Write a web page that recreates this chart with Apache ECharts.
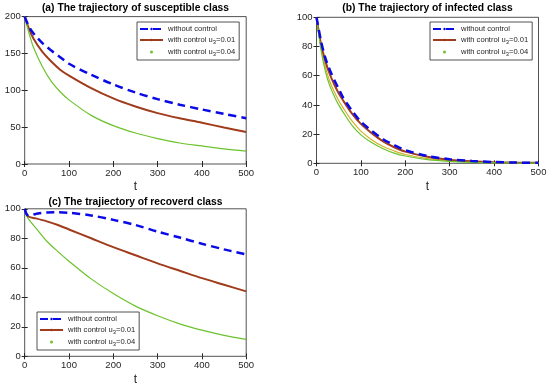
<!DOCTYPE html>
<html><head><meta charset="utf-8">
<script src="https://cdn.jsdelivr.net/npm/echarts@6/dist/echarts.min.js"></script>
<style>html,body{margin:0;padding:0;background:#fff}#c{width:550px;height:387px}</style>
</head><body><div id="c"></div>
<script>
// Panel (a) susceptible
const tA = [0,10,20,40,60,80,100,150,200,250,300,350,400,450,500];
const aNoCtrl = [200,186,177,164,154,145,136,121,108,97,88,80.5,74,68,62];
const aU1 = [200,183,170,152,139,128,120,103,89,78,69,62,56,49.5,43.5];
const aU4 = [200,177,158,132,112,98,87,66,52,42,34.5,28.5,24.5,20.5,17.5];
// Panel (b) infected
const tB = [0,10,20,30,40,50,60,80,100,125,150,175,200,250,300,350,400,450,500];
const bNoCtrl = [100,84,72,64,57,51,45,36,28.5,22,16.5,12.5,9,5,2.8,1.6,0.9,0.5,0.3];
const bU1 = [100,82,70,61,54,48,43,34,27,20.5,15,11,8,4.5,2.5,1.4,0.8,0.5,0.3];
const bExtra = [100,80,66,56,49,43,38,29,22,16,11.5,8.5,6,3.2,1.7,0.9,0.5,0.3,0.2];
const bU4 = [100,78,63,53,46,40,35,26,19.5,14,10,7,5,2.5,1.3,0.7,0.4,0.2,0.1];
// Panel (c) recovered
const tC = [0,5,10,25,50,75,100,150,200,250,300,350,400,450,500];
const cNoCtrl = [100,96,95.5,96.5,97.5,97.6,97.3,95.5,92.5,89,84.5,80.5,76.3,72.5,69];
const cU1 = [100,96,94.5,93.5,91.5,89,86,80,74,68.5,63,58,53,48.5,44];
const cU4 = [100,95,92.5,87,78,71,64.5,52.5,42.5,34,27.5,22,17.7,14.2,11.5];

const names = ['without control','with control u3=0.01','with control u3=0.04'];
const xTicks = {min:0,max:500,interval:100};
const yTicksA = {min:0,max:200,interval:50};
const yTicksB = {min:0,max:100,interval:20};
const yTicksC = {min:0,max:100,interval:20};
const titles = ['(a) The trajiectory of susceptible class','(b) The trajiectory of infected class','(c) The trajiectory of recoverd class'];

const FONT = 'Liberation Sans, Arial, Helvetica, sans-serif';
const BLUE = '#0a0ae6', BROWN = '#a03c1c', GREEN = '#6cc22c', YELLOW = '#d4b02a';
const pair = (t, v) => t.map((x, i) => [x, v[i]]);

const grids = [
  {left:24.7, top:16.6, width:221.5, height:147.4},
  {left:316.5, top:17.3, width:222, height:146},
  {left:24.7, top:208.8, width:221.5, height:147.5}
];
const yT = [yTicksA, yTicksB, yTicksC];

const xAxis = [], yAxis = [];
grids.forEach((g, i) => {
  xAxis.push({type:'value', gridIndex:i, ...xTicks, position:'bottom',
    name:'t', nameLocation:'middle', nameGap:17, nameTextStyle:{fontFamily:FONT, fontSize:12, color:'#262626'},
    axisLine:{show:false}, splitLine:{show:false},
    axisTick:{inside:true, length:3, lineStyle:{color:'#262626'}},
    axisLabel:{fontFamily:FONT, fontSize:9.5, color:'#262626', margin:4}});
  xAxis.push({type:'value', gridIndex:i, ...xTicks, position:'top',
    axisLine:{show:false}, splitLine:{show:false}, axisLabel:{show:false},
    axisTick:{inside:true, length:3, lineStyle:{color:'#262626'}}});
  yAxis.push({type:'value', gridIndex:i, ...yT[i], position:'left',
    axisLine:{show:false}, splitLine:{show:false},
    axisTick:{inside:true, length:3, lineStyle:{color:'#262626'}},
    axisLabel:{fontFamily:FONT, fontSize:9.5, color:'#262626', margin:4}});
  yAxis.push({type:'value', gridIndex:i, ...yT[i], position:'right',
    axisLine:{show:false}, splitLine:{show:false}, axisLabel:{show:false},
    axisTick:{inside:true, length:3, lineStyle:{color:'#262626'}}});
});

function mk(name, gi, t, v, color, width, dashed, z) {
  return {type:'line', name, xAxisIndex:gi*2, yAxisIndex:gi*2, data:pair(t, v),
    smooth:0.3, showSymbol:false, symbol:'circle', symbolSize:3, z:z, animation:false,
    lineStyle:{color, width, type: dashed ? [8,5] : 'solid'}, itemStyle:{color}};
}
const series = [
  mk(names[1],0,tA,aU1,BROWN,2,false,2), mk(names[2],0,tA,aU4,GREEN,1.2,false,2), mk(names[0],0,tA,aNoCtrl,BLUE,2.5,true,3),
  mk(names[1],1,tB,bU1,BROWN,2,false,2), mk('',1,tB,bExtra,YELLOW,1.2,false,1), mk(names[2],1,tB,bU4,GREEN,1.2,false,2), mk(names[0],1,tB,bNoCtrl,BLUE,2.5,true,3),
  mk(names[1],2,tC,cU1,BROWN,2,false,2), mk(names[2],2,tC,cU4,GREEN,1.2,false,2), mk(names[0],2,tC,cNoCtrl,BLUE,2.5,true,3)
];

const legendData = [
  {name:names[0]},
  {name:names[1]},
  {name:names[2], icon:'circle', itemStyle:{color:GREEN}}
];
function legendAt(left, top) {
  return {left, top, orient:'vertical', data:legendData, selectedMode:false,
    backgroundColor:'#fff', borderColor:'#262626', borderWidth:0.8, borderRadius:0,
    padding:[3,4,3,2], itemGap:3, itemWidth:23, itemHeight:3,
    formatter: n => n.replace('u3', 'u{s|3}'),
    textStyle:{fontFamily:FONT, fontSize:7.6, color:'#262626',
      rich:{s:{fontFamily:FONT, fontSize:5.8, color:'#262626', verticalAlign:'bottom', padding:[4,0,0,0]}}}};
}

const chart = echarts.init(document.getElementById('c'), null, {renderer:'canvas'});
chart.setOption({
  animation:false,
  backgroundColor:'#fff',
  title: [
    {text:titles[0], left:135.5, top:3, textAlign:'center'},
    {text:titles[1], left:427.5, top:3, textAlign:'center'},
    {text:titles[2], left:135.5, top:197, textAlign:'center'}
  ].map(t => ({...t, padding:0, textStyle:{fontFamily:FONT, fontSize:10.3, fontWeight:'bold', color:'#000'}})),
  grid: grids.map(g => ({...g, show:true, borderColor:'#262626', borderWidth:0.8, backgroundColor:'#fff'})),
  xAxis, yAxis,
  legend: [legendAt(137,22), legendAt(430,22), legendAt(37,312)],
  series
});
</script></body></html>
